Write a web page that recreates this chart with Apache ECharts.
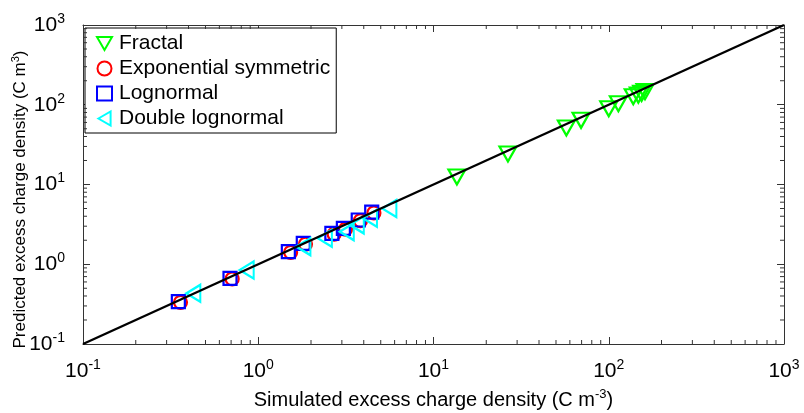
<!DOCTYPE html>
<html><head><meta charset="utf-8">
<script src="https://cdn.jsdelivr.net/npm/echarts@6/dist/echarts.min.js"></script>
<style>html,body{margin:0;padding:0;background:#fff}#c{width:804px;height:413px}</style>
</head><body><div id="c"></div>
<script>
const fractalX = [13.6, 26.6, 57.3, 69.5, 100, 113.5, 138, 147.5, 154, 161];
const fractalY = [12.4, 24.1, 51.1, 63.8, 89.2, 103, 126, 132, 139, 146];
const expX = [0.36, 0.71, 1.53, 1.86, 2.71, 3.15, 3.83, 4.57];
const expY = [0.333, 0.655, 1.41, 1.79, 2.39, 2.76, 3.52, 4.40];
const logX = [0.350, 0.690, 1.485, 1.807, 2.63, 3.06, 3.72, 4.44];
const logY = [0.339, 0.667, 1.437, 1.83, 2.44, 2.82, 3.59, 4.50];
const dblX = [0.426, 0.859, 1.81, 2.40, 3.2, 3.65, 4.34, 5.6];
const dblY = [0.432, 0.847, 1.66, 2.12, 2.56, 3.11, 3.77, 5.0];
const refLine = [0.1, 1000];
const seriesNames = ['Fractal', 'Exponential symmetric', 'Lognormal', 'Double lognormal'];
const xTitle = ['Simulated excess charge density (C m', '-3', ')'];
const yTitle = ['Predicted excess charge density (C m', '3', ')'];

const zip = (a, b) => a.map((v, i) => [v, b[i]]);
const minorVals = [];
for (let d = -1; d < 3; d++) for (let k = 2; k <= 9; k++) minorVals.push(k * Math.pow(10, d));

const FONT = 'Liberation Sans, Arial, sans-serif';
const AXC = '#333';
const DOWN = 'path://M0,0L10,0L5,8.7Z';
const LEFT = 'path://M0,5L8.7,0L8.7,10Z';
const supFmt = v => {
  const e = Math.round(Math.log10(v));
  return '{b|10}{s|' + e + '}';
};
const tickRich = {
  b: {fontSize: 21, fontFamily: FONT, color: '#000', lineHeight: 26},
  s: {fontSize: 14, fontFamily: FONT, color: '#000', lineHeight: 14, verticalAlign: 'top'}
};
const titleRichX = {
  b: {fontSize: 20, fontFamily: FONT, color: '#000', lineHeight: 24},
  s: {fontSize: 13, fontFamily: FONT, color: '#000', lineHeight: 13, verticalAlign: 'top'}
};
const titleRichY = {
  b: {fontSize: 17, fontFamily: FONT, color: '#000', lineHeight: 20},
  s: {fontSize: 11, fontFamily: FONT, color: '#000', lineHeight: 11, verticalAlign: 'top'}
};

const chart = echarts.init(document.getElementById('c'), null, {renderer: 'canvas'});
const axisCommon = {
  type: 'log', logBase: 10, min: 0.1, max: 1000,
  axisLine: {show: true, lineStyle: {color: AXC, width: 1}},
  axisTick: {show: true, inside: true, length: 7, lineStyle: {color: AXC, width: 1}},
  splitLine: {show: false}, minorTick: {show: false}
};
const mk = (name, sym, color, x, y, size) => ({
  name, type: 'scatter', symbol: sym, symbolSize: size,
  data: zip(x, y), xAxisIndex: 0, yAxisIndex: 0,
  itemStyle: {color: 'rgba(0,0,0,0)', borderColor: color, borderWidth: 2.2, opacity: 1},
  emphasis: {disabled: true}, z: 3
});

chart.setOption({
  animation: false,
  grid: {left: 83, right: 20, top: 25, bottom: 69, containLabel: false, outerBoundsMode: 'none'},
  xAxis: [
    Object.assign({}, axisCommon, {
      position: 'bottom',
      axisLabel: {formatter: supFmt, rich: tickRich, margin: 14},
      name: '{b|' + xTitle[0] + '}{s|' + xTitle[1] + '}{b|' + xTitle[2] + '}',
      nameLocation: 'middle', nameGap: 44, nameTextStyle: {rich: titleRichX}
    }),
    Object.assign({}, axisCommon, {position: 'top', axisLabel: {show: false}})
  ],
  yAxis: [
    Object.assign({}, axisCommon, {
      position: 'left',
      axisLabel: {formatter: supFmt, rich: tickRich, margin: 18},
      name: '{b|' + yTitle[0] + '}{s|' + yTitle[1] + '}{b|' + yTitle[2] + '}',
      nameLocation: 'middle', nameGap: 53, nameMoveOverlap: false, nameRotate: 90,
      nameTextStyle: {rich: titleRichY, padding: [0, 30, 0, 0]}
    }),
    Object.assign({}, axisCommon, {position: 'right', axisLabel: {show: false}})
  ],
  legend: {
    orient: 'vertical', left: 85, top: 28, padding: [5, 6, 4, 11],
    itemGap: 4, itemWidth: 15, itemHeight: 14,
    backgroundColor: '#fff', borderColor: '#000', borderWidth: 1,
    textStyle: {fontFamily: FONT, fontSize: 21, color: '#000', padding: [0, 0, 0, 2]},
    data: [
      {name: seriesNames[0], icon: DOWN},
      {name: seriesNames[1], icon: 'circle'},
      {name: seriesNames[2], icon: 'rect'},
      {name: seriesNames[3], icon: LEFT}
    ],
    selectedMode: false
  },
  series: [
    mk(seriesNames[0], DOWN, '#00ff00', fractalX, fractalY, [17, 15]),
    mk(seriesNames[1], 'circle', '#ff0000', expX, expY, 13),
    mk(seriesNames[2], 'rect', '#0000ff', logX, logY, 13),
    mk(seriesNames[3], LEFT, '#00ffff', dblX, dblY, [14, 17]),
    {
      type: 'line', data: zip(refLine, refLine), symbol: 'none', silent: true,
      lineStyle: {color: '#000', width: 2.4}, z: 5
    },
    {
      type: 'custom', silent: true, clip: false, z: 4,
      data: minorVals.map(v => [v, v]),
      renderItem: (params, api) => {
        const v = api.value(0);
        const pb = api.coord([v, 0.1]), pt = api.coord([v, 1000]);
        const pl = api.coord([0.1, v]), pr = api.coord([1000, v]);
        const st = {stroke: AXC, lineWidth: 1};
        const L = 4;
        return {type: 'group', children: [
          {type: 'line', shape: {x1: pb[0], y1: pb[1], x2: pb[0], y2: pb[1] - L}, style: st},
          {type: 'line', shape: {x1: pt[0], y1: pt[1], x2: pt[0], y2: pt[1] + L}, style: st},
          {type: 'line', shape: {x1: pl[0], y1: pl[1], x2: pl[0] + L, y2: pl[1]}, style: st},
          {type: 'line', shape: {x1: pr[0], y1: pr[1], x2: pr[0] - L, y2: pr[1]}, style: st}
        ]};
      }
    }
  ]
});
</script></body></html>
